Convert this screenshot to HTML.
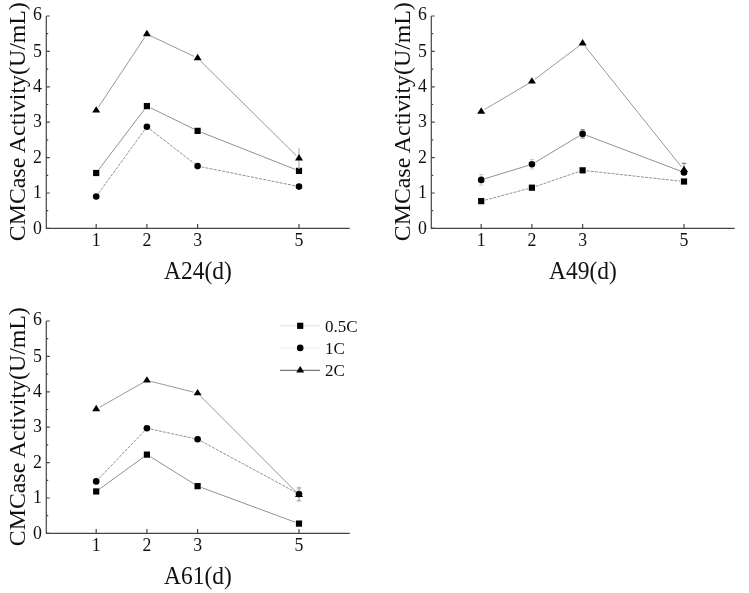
<!DOCTYPE html>
<html><head><meta charset="utf-8"><title>CMCase Activity</title>
<style>
html,body{margin:0;padding:0;background:#fff;}
svg{display:block;font-family:"Liberation Serif","Times New Roman",serif;fill:#111;}
.ax{stroke:#444;stroke-width:1.2;fill:none}
.tk{font-size:17.8px;}
.yl{font-size:24px;}
.xl{font-size:24.5px;}
.lg{font-size:17px;}
.m{fill:#000;stroke:none}
</style></head><body>
<svg width="749" height="593" viewBox="0 0 749 593">
<rect width="749" height="593" fill="#fff"/>
<g>
<path class="ax" d="M46.3 16.0V228.4H349.7"/>
<path class="ax" d="M46.3 228.4h3.5M46.3 210.7h1.9M46.3 193.0h3.5M46.3 175.3h1.9M46.3 157.6h3.5M46.3 139.9h1.9M46.3 122.2h3.5M46.3 104.5h1.9M46.3 86.8h3.5M46.3 69.1h1.9M46.3 51.4h3.5M46.3 33.7h1.9M46.3 16.0h3.5M96.2 228.4v-4.5M146.9 228.4v-4.5M197.6 228.4v-4.5M299.0 228.4v-4.5"/>
<text class="tk" text-anchor="end" x="41.9" y="233.6">0</text>
<text class="tk" text-anchor="end" x="41.9" y="198.2">1</text>
<text class="tk" text-anchor="end" x="41.9" y="162.8">2</text>
<text class="tk" text-anchor="end" x="41.9" y="127.4">3</text>
<text class="tk" text-anchor="end" x="41.9" y="92.0">4</text>
<text class="tk" text-anchor="end" x="41.9" y="56.6">5</text>
<text class="tk" text-anchor="end" x="41.9" y="20.2">6</text>
<text class="tk" text-anchor="middle" x="96.2" y="245.7">1</text>
<text class="tk" text-anchor="middle" x="146.9" y="245.7">2</text>
<text class="tk" text-anchor="middle" x="197.6" y="245.7">3</text>
<text class="tk" text-anchor="middle" x="299.0" y="245.7">5</text>
<text class="xl" text-anchor="middle" textLength="67.8" lengthAdjust="spacingAndGlyphs" x="198" y="279">A24(d)</text>
<text class="yl" text-anchor="middle" textLength="239" lengthAdjust="spacingAndGlyphs" transform="translate(25.2 121.7) rotate(-90)">CMCase Activity(U/mL)</text>
<path d="M98.6 169.8L144.5 109.3M150.5 107.8L194.0 129.1M201.3 132.3L295.3 169.4" fill="none" stroke="#222" stroke-width="0.5"/>
<rect class="m" x="93.10" y="169.90" width="6.2" height="6.2"/>
<rect class="m" x="143.80" y="102.99" width="6.2" height="6.2"/>
<rect class="m" x="194.50" y="127.77" width="6.2" height="6.2"/>
<rect class="m" x="295.90" y="167.78" width="6.2" height="6.2"/>
<path d="M98.6 193.3L144.5 130.0M150.1 129.3L194.4 163.6M201.5 166.9L295.1 185.8" fill="none" stroke="#222" stroke-width="0.5" stroke-dasharray="3 1.2"/>
<circle class="m" cx="96.2" cy="196.5" r="3.3"/>
<circle class="m" cx="146.9" cy="126.8" r="3.3"/>
<circle class="m" cx="197.6" cy="166.1" r="3.3"/>
<circle class="m" cx="299.0" cy="186.6" r="3.3"/>
<path d="M98.4 107.2L144.7 37.4M150.5 35.8L194.0 56.4M200.4 60.9L296.2 155.5" fill="none" stroke="#333" stroke-width="0.5"/>
<path d="M299.0 147.7V168.9" stroke="#bbb" stroke-width="1.3" fill="none"/>
<path class="m" d="M96.2 106.2L100.2 112.6H92.2Z"/>
<path class="m" d="M146.9 29.8L150.9 36.2H142.9Z"/>
<path class="m" d="M197.6 53.8L201.6 60.2H193.6Z"/>
<path class="m" d="M299.0 154.0L303.0 160.4H295.0Z"/>
</g>
<g>
<path class="ax" d="M431.3 16.0V228.4H734.7"/>
<path class="ax" d="M431.3 228.4h3.5M431.3 210.7h1.9M431.3 193.0h3.5M431.3 175.3h1.9M431.3 157.6h3.5M431.3 139.9h1.9M431.3 122.2h3.5M431.3 104.5h1.9M431.3 86.8h3.5M431.3 69.1h1.9M431.3 51.4h3.5M431.3 33.7h1.9M431.3 16.0h3.5M481.2 228.4v-4.5M531.9 228.4v-4.5M582.6 228.4v-4.5M684.0 228.4v-4.5"/>
<text class="tk" text-anchor="end" x="426.9" y="233.6">0</text>
<text class="tk" text-anchor="end" x="426.9" y="198.2">1</text>
<text class="tk" text-anchor="end" x="426.9" y="162.8">2</text>
<text class="tk" text-anchor="end" x="426.9" y="127.4">3</text>
<text class="tk" text-anchor="end" x="426.9" y="92.0">4</text>
<text class="tk" text-anchor="end" x="426.9" y="56.6">5</text>
<text class="tk" text-anchor="end" x="426.9" y="20.2">6</text>
<text class="tk" text-anchor="middle" x="481.2" y="245.7">1</text>
<text class="tk" text-anchor="middle" x="531.9" y="245.7">2</text>
<text class="tk" text-anchor="middle" x="582.6" y="245.7">3</text>
<text class="tk" text-anchor="middle" x="684.0" y="245.7">5</text>
<text class="xl" text-anchor="middle" textLength="67.8" lengthAdjust="spacingAndGlyphs" x="583" y="279">A49(d)</text>
<text class="yl" text-anchor="middle" textLength="239" lengthAdjust="spacingAndGlyphs" transform="translate(410.2 121.7) rotate(-90)">CMCase Activity(U/mL)</text>
<path d="M485.1 200.1L528.0 188.7M535.7 186.4L578.8 171.6M586.6 170.8L680.0 181.1" fill="none" stroke="#222" stroke-width="0.5" stroke-dasharray="3 1.2"/>
<rect class="m" x="478.10" y="198.04" width="6.2" height="6.2"/>
<rect class="m" x="528.80" y="184.59" width="6.2" height="6.2"/>
<rect class="m" x="579.50" y="167.24" width="6.2" height="6.2"/>
<rect class="m" x="680.90" y="178.40" width="6.2" height="6.2"/>
<path d="M485.0 178.7L528.1 165.5M535.3 162.3L579.2 135.9M586.3 135.3L680.3 171.0" fill="none" stroke="#222" stroke-width="0.5"/>
<path d="M481.2 174.6V185.2" stroke="#ccc" stroke-width="1.2" fill="none"/>
<path d="M479.0 174.6h4.4M479.0 185.2h4.4" stroke="#bbb" stroke-width="0.7" fill="none"/>
<path d="M531.9 159.5V169.1" stroke="#ccc" stroke-width="1.2" fill="none"/>
<path d="M529.7 159.5h4.4M529.7 169.1h4.4" stroke="#bbb" stroke-width="0.7" fill="none"/>
<path d="M582.6 129.6V138.1" stroke="#ccc" stroke-width="1.2" fill="none"/>
<path d="M580.4 129.6h4.4M580.4 138.1h4.4" stroke="#555" stroke-width="0.7" fill="none"/>
<path d="M684.0 163.3V172.5" stroke="#555" stroke-width="0.6" fill="none"/>
<path d="M681.8 163.3h4.4" stroke="#333" stroke-width="0.7" fill="none"/>
<circle class="m" cx="481.2" cy="179.9" r="3.3"/>
<circle class="m" cx="531.9" cy="164.3" r="3.3"/>
<circle class="m" cx="582.6" cy="133.9" r="3.3"/>
<circle class="m" cx="684.0" cy="172.5" r="3.3"/>
<path d="M484.6 109.5L528.5 83.5M535.1 79.1L579.4 45.7M585.1 46.4L681.5 166.9" fill="none" stroke="#333" stroke-width="0.5"/>
<path class="m" d="M481.2 107.3L485.2 113.7H477.2Z"/>
<path class="m" d="M531.9 77.2L535.9 83.6H527.9Z"/>
<path class="m" d="M582.6 39.0L586.6 45.4H578.6Z"/>
<path class="m" d="M684.0 165.7L688.0 172.1H680.0Z"/>
</g>
<g>
<path class="ax" d="M46.3 321.0V533.4H349.7"/>
<path class="ax" d="M46.3 533.4h3.5M46.3 515.7h1.9M46.3 498.0h3.5M46.3 480.3h1.9M46.3 462.6h3.5M46.3 444.9h1.9M46.3 427.2h3.5M46.3 409.5h1.9M46.3 391.8h3.5M46.3 374.1h1.9M46.3 356.4h3.5M46.3 338.7h1.9M46.3 321.0h3.5M96.2 533.4v-4.5M146.9 533.4v-4.5M197.6 533.4v-4.5M299.0 533.4v-4.5"/>
<text class="tk" text-anchor="end" x="41.9" y="538.6">0</text>
<text class="tk" text-anchor="end" x="41.9" y="503.2">1</text>
<text class="tk" text-anchor="end" x="41.9" y="467.8">2</text>
<text class="tk" text-anchor="end" x="41.9" y="432.4">3</text>
<text class="tk" text-anchor="end" x="41.9" y="397.0">4</text>
<text class="tk" text-anchor="end" x="41.9" y="361.6">5</text>
<text class="tk" text-anchor="end" x="41.9" y="325.2">6</text>
<text class="tk" text-anchor="middle" x="96.2" y="550.7">1</text>
<text class="tk" text-anchor="middle" x="146.9" y="550.7">2</text>
<text class="tk" text-anchor="middle" x="197.6" y="550.7">3</text>
<text class="tk" text-anchor="middle" x="299.0" y="550.7">5</text>
<text class="xl" text-anchor="middle" textLength="67.8" lengthAdjust="spacingAndGlyphs" x="198" y="584">A61(d)</text>
<text class="yl" text-anchor="middle" textLength="239" lengthAdjust="spacingAndGlyphs" transform="translate(25.2 426.7) rotate(-90)">CMCase Activity(U/mL)</text>
<path d="M99.4 489.1L143.7 457.0M150.3 456.7L194.2 484.0M201.4 487.5L295.2 522.2" fill="none" stroke="#222" stroke-width="0.5"/>
<rect class="m" x="93.10" y="488.35" width="6.2" height="6.2"/>
<rect class="m" x="143.80" y="451.53" width="6.2" height="6.2"/>
<rect class="m" x="194.50" y="483.04" width="6.2" height="6.2"/>
<rect class="m" x="295.90" y="520.49" width="6.2" height="6.2"/>
<path d="M99.0 478.5L144.1 431.2M150.8 429.1L193.7 438.4M201.1 441.1L295.5 492.2" fill="none" stroke="#222" stroke-width="0.5" stroke-dasharray="3 1.2"/>
<path d="M299.0 487.4V500.8" stroke="#bbb" stroke-width="1.0" fill="none"/>
<path d="M296.8 487.4h4.4M296.8 500.8h4.4" stroke="#999" stroke-width="0.7" fill="none"/>
<circle class="m" cx="96.2" cy="481.4" r="3.3"/>
<circle class="m" cx="146.9" cy="428.3" r="3.3"/>
<circle class="m" cx="197.6" cy="439.2" r="3.3"/>
<circle class="m" cx="299.0" cy="494.1" r="3.3"/>
<path d="M99.7 407.2L143.4 382.4M150.8 381.4L193.7 392.2M200.4 396.0L296.2 492.0" fill="none" stroke="#333" stroke-width="0.5"/>
<path d="M299.0 488.8V500.8" stroke="#bbb" stroke-width="1.0" fill="none"/>
<path d="M296.8 488.8h4.4M296.8 500.8h4.4" stroke="#999" stroke-width="0.7" fill="none"/>
<path class="m" d="M96.2 404.8L100.2 411.2H92.2Z"/>
<path class="m" d="M146.9 376.2L150.9 382.6H142.9Z"/>
<path class="m" d="M197.6 388.9L201.6 395.3H193.6Z"/>
<path class="m" d="M299.0 490.5L303.0 496.9H295.0Z"/>
</g>
<g>
<path d="M280 325.8H320" stroke="#ddd" stroke-width="1" fill="none"/>
<rect class="m" x="297.10" y="322.70" width="6.2" height="6.2"/>
<text class="lg" x="325" y="331.6">0.5C</text>
<path d="M280 347.9H320" stroke="#f0f0f0" stroke-width="1" fill="none"/>
<circle class="m" cx="300.2" cy="347.9" r="3.3"/>
<text class="lg" x="325" y="353.7">1C</text>
<path d="M280 370.3H320" stroke="#555" stroke-width="1" fill="none"/>
<path class="m" d="M300.2 366.0L304.2 372.4H296.2Z"/>
<text class="lg" x="325" y="376.1">2C</text>
</g>
</svg>
</body></html>
